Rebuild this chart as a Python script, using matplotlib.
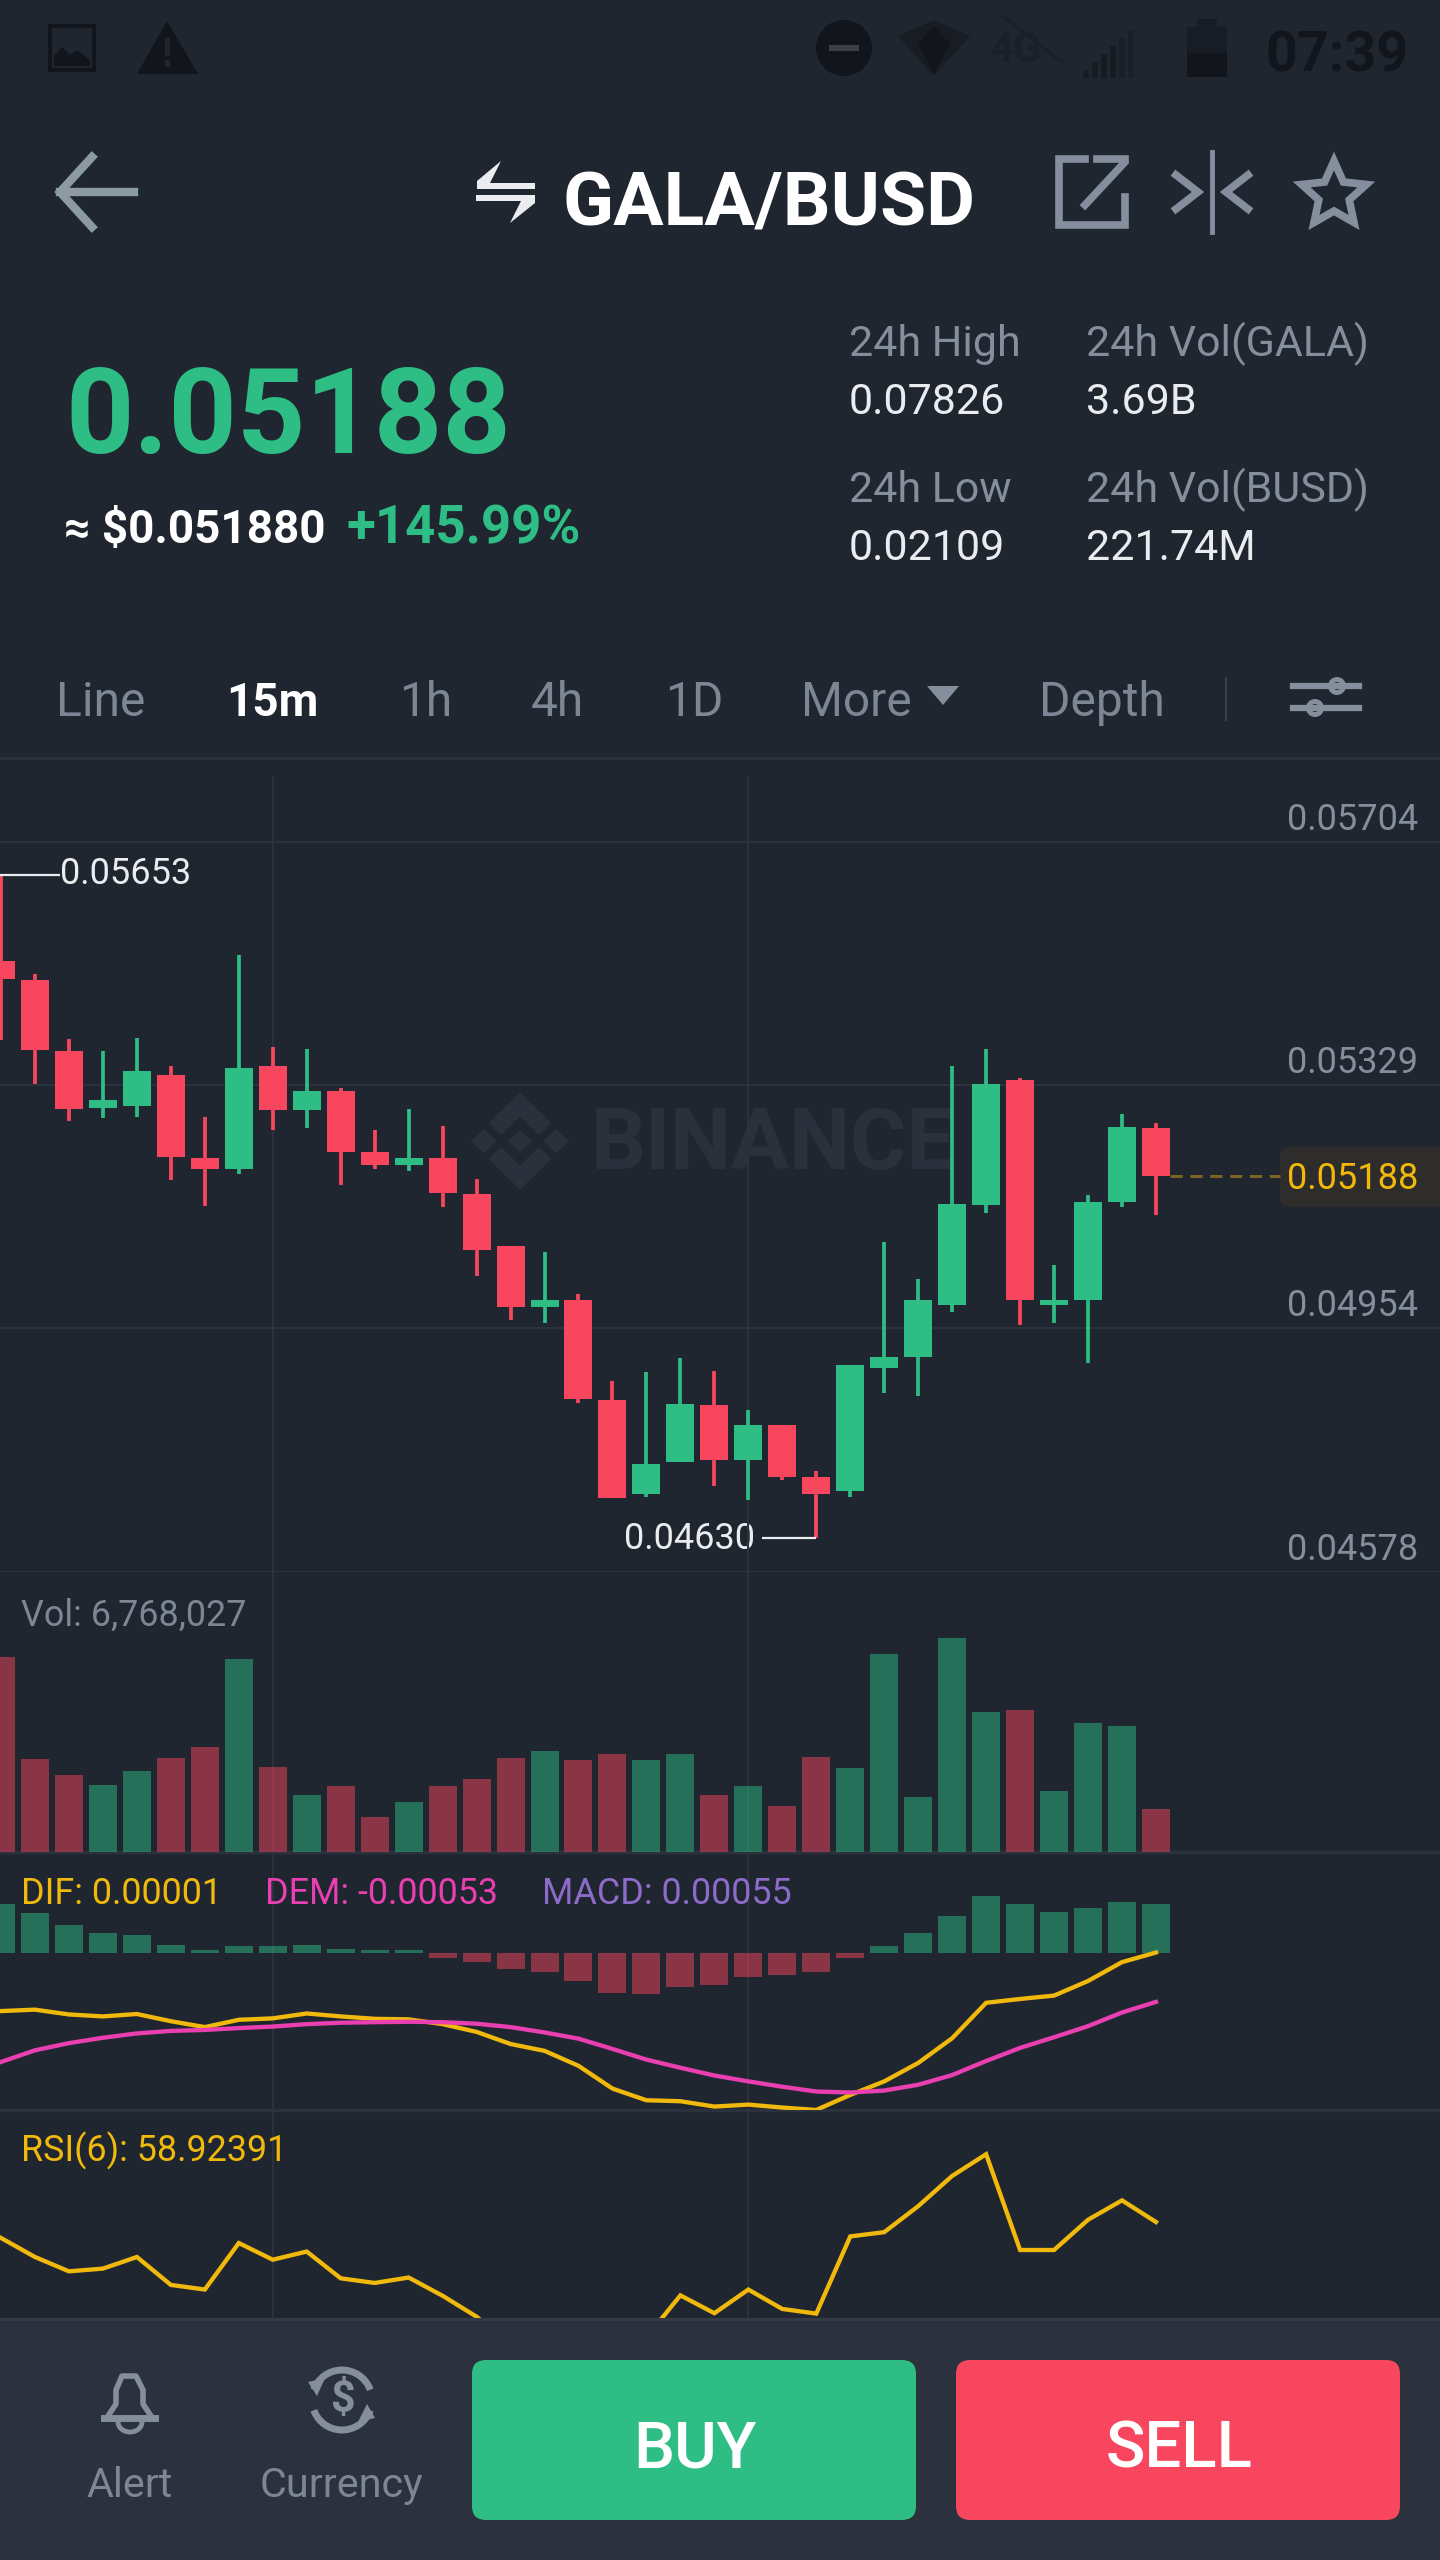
import numpy as np
import matplotlib
matplotlib.use("Agg")
import matplotlib.pyplot as plt
from matplotlib.patches import Arc, Circle, FancyBboxPatch, Polygon, Rectangle

opens = [0.05520, 0.05491, 0.05381, 0.05293, 0.05297, 0.05345, 0.05217, 0.05200, 0.05358, 0.05291, 0.05320, 0.05225,
         0.05206, 0.05216, 0.05161, 0.05080, 0.04986, 0.04998, 0.04843, 0.04698, 0.04747, 0.04835, 0.04750, 0.04804,
         0.04724, 0.04702, 0.04892, 0.04910, 0.04990, 0.05144, 0.05337, 0.04990, 0.04998, 0.05149, 0.05262]
closes = [0.05492, 0.05383, 0.05292, 0.05306, 0.05350, 0.05218, 0.05199, 0.05355, 0.05291, 0.05320, 0.05225, 0.05206,
          0.05217, 0.05162, 0.05074, 0.04986, 0.04997, 0.04845, 0.04691, 0.04744, 0.04837, 0.04750, 0.04804, 0.04724,
          0.04698, 0.04897, 0.04910, 0.04998, 0.05145, 0.05331, 0.04997, 0.04998, 0.05148, 0.05264, 0.05188]
highs = [0.05653, 0.05500, 0.05400, 0.05381, 0.05401, 0.05359, 0.05280, 0.05530, 0.05387, 0.05385, 0.05325, 0.05259,
         0.05292, 0.05266, 0.05184, 0.05081, 0.05072, 0.05007, 0.04873, 0.04886, 0.04908, 0.04888, 0.04828, 0.04804,
         0.04733, 0.04897, 0.05087, 0.05030, 0.05358, 0.05385, 0.05340, 0.05052, 0.05159, 0.05284, 0.05270]
lows = [0.05399, 0.05330, 0.05274, 0.05278, 0.05279, 0.05182, 0.05142, 0.05192, 0.05259, 0.05263, 0.05175, 0.05199,
        0.05197, 0.05141, 0.05034, 0.04967, 0.04961, 0.04839, 0.04691, 0.04694, 0.04747, 0.04710, 0.04688, 0.04720,
        0.04630, 0.04693, 0.04853, 0.04849, 0.04979, 0.05131, 0.04959, 0.04961, 0.04900, 0.05141, 0.05129]
volumes = [30.9, 14.8, 12.3, 10.7, 12.9, 14.9, 16.7, 30.7, 13.5, 9.0, 10.4, 5.5, 7.9, 10.5, 11.6, 14.9, 16.1, 14.6,
           15.6, 14.6, 15.6, 9.0, 10.4, 7.3, 15.1, 13.4, 31.5, 8.8, 34.0, 22.3, 22.5, 9.7, 20.4, 20.0, 6.77]
macd_hist = [56, 45, 32, 23, 21, 10, 4, 8, 8, 10, 5, 4, 4, -5, -10, -18, -21, -31, -45, -46, -38, -35, -27, -24,
             -21, -5, 8, 23, 42, 64, 55, 47, 51, 58, 55]
dif = [-64.8, -63.2, -68.6, -70.8, -68.1, -76.2, -82.8, -74.6, -73.0, -67.5, -70.8, -73.5, -74.1, -79.5, -88.2,
       -101.8, -109.5, -126.3, -151.9, -165.0, -166.1, -172.1, -169.9, -173.2, -175.9, -159.0, -143.8, -123.1,
       -95.3, -55.5, -51.2, -47.4, -31.0, -9.8, 1.0]
dem = [-122.0, -108.9, -100.8, -94.8, -89.9, -87.1, -86.0, -83.9, -82.2, -79.5, -77.9, -77.3, -76.8, -77.3, -79.0,
       -82.8, -88.8, -95.8, -107.3, -119.3, -128.5, -137.2, -143.8, -149.8, -155.2, -156.3, -154.1, -147.6, -136.7,
       -120.9, -106.2, -94.2, -81.7, -66.4, -54.5]
rsi = [54.8, 49.9, 46.2, 46.9, 49.9, 42.7, 41.5, 53.5, 49.2, 51.3, 44.4, 43.2, 44.6, 39.9, 34.5, 27.0, 25.8, 22.0,
       18.3, 29.2, 40.0, 35.4, 41.5, 36.5, 35.3, 55.2, 56.3, 63.0, 70.8, 76.4, 51.7, 51.7, 59.5, 64.5, 58.92]

price_ticks = [0.05704, 0.05329, 0.04954, 0.04578]
last_price = 0.05188
high_price = 0.05653
low_price = 0.04630
high_index = 0
low_index = 24
grid_candles = [8, 22]

tabs = ["Line", "15m", "1h", "4h", "1D", "More", "Depth"]
tabs_x = [56, 226, 399, 531, 665, 801, 1039]

# --- Couleurs ---
BG = "#1f2630"
FOOTER = "#2b323d"
GRID = "#2b323d"
GREEN = "#2ebd85"
RED = "#f9465f"
YELLOW = "#f0b90b"
PINK = "#e93fb0"
PURPLE = "#8d6bca"
GREY = "#848e9c"
LABEL = "#7d8694"
WHITE = "#eaecef"
DARK = "#12161c"
MARK = "#2b313c"

W, H = 1440, 2560
STEP = 33.97
PRICE_PX = 1.5431e-5

plt.rcParams["font.family"] = ["Roboto", "DejaVu Sans"]

fig = plt.figure(figsize=(W / 100, H / 100), dpi=100, facecolor=BG)
x = np.arange(len(opens))
xlim = (-1 / STEP, (W - 1) / STEP)


def panel(top, bottom, ylim):
    ax = fig.add_axes([0, 1 - bottom / H, 1, (bottom - top) / H], zorder=2)
    ax.patch.set_alpha(0)
    ax.set_xlim(xlim)
    ax.set_ylim(ylim)
    ax.axis("off")
    for c in grid_candles:
        ax.axvline(c, color=GRID, lw=1.5, zorder=0)
    return ax


# fond + textes en pixels
under = fig.add_axes([0, 0, 1, 1], zorder=1)
ui = fig.add_axes([0, 0, 1, 1], zorder=3)
for a in (under, ui):
    a.set_xlim(0, W)
    a.set_ylim(H, 0)
    a.axis("off")
    a.patch.set_alpha(0)


def label(s, px, py, size, color=WHITE, ha="left", weight="normal", ax=ui):
    ax.text(px, py, s, fontsize=size, color=color, ha=ha, va="baseline", fontweight=weight)


# --- Filigrane ---
logo_x, logo_y, logo_r = 520, 1141, 50


def logo_poly(pts):
    under.add_patch(Polygon([(logo_x + a * logo_r, logo_y + b * logo_r * 0.97) for a, b in pts], color=MARK, lw=0))


logo_poly([(0, -0.23), (0.23, 0), (0, 0.23), (-0.23, 0)])
logo_poly([(-0.98, 0), (-0.72, -0.25), (-0.47, 0), (-0.72, 0.25)])
logo_poly([(0.98, 0), (0.72, -0.25), (0.47, 0), (0.72, 0.25)])
logo_poly([(0, -1), (0.63, -0.37), (0.38, -0.12), (0, -0.5), (-0.38, -0.12), (-0.63, -0.37)])
logo_poly([(0, 1), (0.63, 0.37), (0.38, 0.12), (0, 0.5), (-0.38, 0.12), (-0.63, 0.37)])
label("BINANCE", 590, 1169, 62, MARK, weight="bold", ax=under)

# --- Chandeliers ---
price_top = 776
price_bottom = 1572
tick_y = 842
ax_price = panel(price_top, price_bottom, (price_ticks[0] - (price_bottom - tick_y) * PRICE_PX,
                                           price_ticks[0] + (tick_y - price_top) * PRICE_PX))
for level in price_ticks:
    ax_price.axhline(level, color=GRID, lw=1.5, zorder=0)
colors = [GREEN if c >= o else RED for o, c in zip(opens, closes)]
ax_price.vlines(x, lows, highs, colors=colors, lw=2.7, zorder=2)
ax_price.bar(x, np.abs(np.array(closes) - np.array(opens)), bottom=np.minimum(opens, closes), width=0.824,
             color=colors, zorder=3)

# prix courant + extremes
ax_price.hlines(last_price, x[-1] + 14 / STEP, (1280 - 1) / STEP, color="#7a6420", lw=2.2, linestyles=(0, (4, 2.5)))
ax_price.hlines(high_price, xlim[0], (60 - 1) / STEP, color=WHITE, lw=1.6)
ax_price.hlines(low_price, (762 - 1) / STEP, low_index, color=WHITE, lw=1.6)
for level in price_ticks:
    ax_price.annotate(f"{level:.5f}", (1, level), xycoords=("axes fraction", "data"), xytext=(-22, 12),
                      textcoords="offset pixels", ha="right", va="baseline", fontsize=26, color=GREY)
ui.add_patch(FancyBboxPatch((1280, 1147), 180, 60, boxstyle="round,pad=0,rounding_size=10", color="#2e2d2b", lw=0,
                            zorder=0))
ax_price.annotate(f"{last_price:.5f}", (1, last_price), xycoords=("axes fraction", "data"), xytext=(-22, -13),
                  textcoords="offset pixels", ha="right", va="baseline", fontsize=26, color=YELLOW, zorder=10)
ax_price.set_zorder(4)
label("0.05653", 60, 884, 26)
label("0.04630", 624, 1549, 26)

# --- Volume ---
vol_top, vol_bottom = 1572, 1852
ax_vol = panel(vol_top, vol_bottom, (0, (vol_bottom - vol_top) / 6.30))
ax_vol.bar(x, volumes, width=0.824, color=colors, alpha=0.49, lw=0)
ax_vol.axhline(0, color=GRID, lw=2.5, zorder=0, clip_on=False)
label("Vol: 6,768,027", 21, 1626, 25.8, LABEL)

# --- MACD (unite 1e-5) ---
macd_top, macd_bottom = 1852, 2110
macd_zero = 1953.4
macd_px = 1.1236
ax_macd = panel(macd_top, macd_bottom, (-(macd_bottom - macd_zero) * macd_px, (macd_zero - macd_top) * macd_px))
ax_macd.bar(x, macd_hist, width=0.824, color=[GREEN if v >= 0 else RED for v in macd_hist], alpha=0.49, lw=0)
ax_macd.plot(x, dif, color=YELLOW, lw=3.1, solid_joinstyle="miter")
ax_macd.plot(x, dem, color=PINK, lw=3.1)
ax_macd.axhline(ax_macd.get_ylim()[0], color=GRID, lw=2.5, zorder=0, clip_on=False)
label("DIF: 0.00001", 21, 1904, 25.8, YELLOW)
label("DEM: -0.00053", 265, 1904, 25.8, PINK)
label("MACD: 0.00055", 542, 1904, 25.8, PURPLE)

# --- RSI ---
rsi_top, rsi_bottom = 2110, 2318
rsi_anchor = 2222
rsi_px = 3.878
ax_rsi = panel(rsi_top, rsi_bottom, (rsi[-1] - (rsi_bottom - rsi_anchor) / rsi_px,
                                     rsi[-1] + (rsi_anchor - rsi_top) / rsi_px))
ax_rsi.plot(x, rsi, color=YELLOW, lw=3.1, solid_joinstyle="miter")
label("RSI(6): 58.92391", 21, 2161, 25.8, YELLOW)

# --- Pied de page ---
ui.add_patch(Rectangle((0, 2318), W, H - 2318, color=FOOTER, lw=0))
ui.add_patch(Rectangle((0, 2318), W, 3, color="#343b47", lw=0))
ui.add_patch(FancyBboxPatch((472, 2360), 444, 160, boxstyle="round,pad=0,rounding_size=14", color=GREEN, lw=0))
ui.add_patch(FancyBboxPatch((956, 2360), 444, 160, boxstyle="round,pad=0,rounding_size=14", color=RED, lw=0))
label("BUY", 695, 2468, 47, "white", ha="center", weight="medium")
label("SELL", 1179, 2468, 47, "white", ha="center", weight="medium")
label("Alert", 130, 2497, 29.8, LABEL, ha="center")
label("Currency", 342, 2497, 29.8, LABEL, ha="center")

# cloche
ui.plot([108, 116, 116, 122, 136, 143, 143, 151], [2416, 2404, 2390, 2376, 2376, 2390, 2404, 2416], color=GREY, lw=4)
ui.plot([104, 155], [2418, 2418], color=GREY, lw=5)
ui.add_patch(Arc((130, 2422), 24, 20, theta1=0, theta2=180, color=GREY, lw=3.5))
# devise
ui.add_patch(Arc((342, 2400), 60, 60, theta1=20, theta2=160, color=GREY, lw=5))
ui.add_patch(Arc((342, 2400), 60, 60, theta1=200, theta2=340, color=GREY, lw=5))
ui.add_patch(Polygon([(308, 2382), (325, 2378), (317, 2396)], color=GREY, lw=0))
ui.add_patch(Polygon([(375, 2418), (358, 2422), (367, 2404)], color=GREY, lw=0))
ui.text(342, 2400, "$", fontsize=31, color=GREY, ha="center", va="center", fontweight="bold")

# --- Barre d'etat ---
ui.add_patch(Rectangle((50, 26), 44, 44, fill=False, ec=DARK, lw=3))
ui.add_patch(Polygon([(54, 66), (54, 56), (62, 47), (70, 55), (77, 50), (90, 60), (90, 66)], color=DARK, lw=0))
ui.add_patch(Polygon([(167, 21), (198, 74), (137, 74)], color=DARK, lw=0, joinstyle="round"))
ui.add_patch(Rectangle((165, 38), 5, 18, color=BG, lw=0))
ui.add_patch(Rectangle((165, 60), 5, 7, color=BG, lw=0))
ui.add_patch(Circle((844, 48), 28, color=DARK, lw=0))
ui.add_patch(Rectangle((829, 45), 30, 6, color="#3a4048", lw=0))
ui.add_patch(Polygon([(934, 20), (970, 36), (934, 76), (898, 36)], color="#181d24", lw=0))
ui.add_patch(Polygon([(934, 26), (950, 44), (934, 74), (918, 44)], color=DARK, lw=0))
label("4G", 990, 62, 30, "#1a2029", weight="bold")
ui.plot([1005, 1062], [18, 62], color="#1a2029", lw=2.5)
for k, bx in enumerate(range(1083, 1130, 9)):
    ui.add_patch(Rectangle((bx, 78 - 8 * (k + 1)), 6, 8 * (k + 1), color="#171c23" if k < 4 else "#1a2029", lw=0))
ui.add_patch(Rectangle((1187, 27), 40, 50, color="#181d25", lw=0))
ui.add_patch(Rectangle((1197, 19), 20, 8, color="#181d25", lw=0))
ui.add_patch(Rectangle((1187, 53), 40, 24, color=DARK, lw=0))
label("07:39", 1265, 71, 40, DARK, weight="bold")

# --- En-tete ---
ui.plot([60, 134], [192, 192], color="#8c9aa3", lw=6)
ui.plot([92, 60, 92], [157, 192, 227], color="#8c9aa3", lw=6, solid_joinstyle="miter")
ui.add_patch(Polygon([(501, 161), (490, 183), (535, 183), (535, 189), (477, 189), (477, 181)], color=WHITE, lw=0))
ui.add_patch(Polygon([(510, 223), (521, 201), (476, 201), (476, 195), (535, 195), (535, 203)], color=WHITE, lw=0))
label("GALA/BUSD", 562, 225, 54, "white", weight="bold")
ui.plot([1085, 1059, 1059, 1125, 1125], [159, 159, 225, 225, 197], color=GREY, lw=5.5, solid_joinstyle="miter")
ui.plot([1097, 1125, 1125], [159, 159, 159], color=GREY, lw=5.5)
ui.plot([1085, 1124], [205, 163], color=GREY, lw=5.5)
ui.plot([1212, 1212], [152, 232], color=GREY, lw=3.5)
ui.plot([1176, 1198, 1176], [175, 192, 209], color=GREY, lw=5.5, solid_joinstyle="miter")
ui.plot([1248, 1226, 1248], [175, 192, 209], color=GREY, lw=5.5, solid_joinstyle="miter")
star_a = np.deg2rad(np.arange(10) * 36 - 90)
star_r = np.where(np.arange(10) % 2 == 0, 34, 16)
ui.add_patch(Polygon(np.c_[1334 + star_r * np.cos(star_a), 195 + star_r * np.sin(star_a)], fill=False, ec=GREY, lw=5.5))

# --- Prix ---
label("0.05188", 65, 453, 86, GREEN, weight="bold")
label("≈ $0.051880", 64, 543, 33, "white", weight="bold")
label("+145.99%", 347, 543, 38, GREEN, weight="bold")
label("24h High", 849, 356, 31, GREY)
label("0.07826", 849, 414, 31)
label("24h Vol(GALA)", 1086, 356, 31, GREY)
label("3.69B", 1086, 414, 31)
label("24h Low", 849, 502, 31, GREY)
label("0.02109", 849, 560, 31)
label("24h Vol(BUSD)", 1086, 502, 31, GREY)
label("221.74M", 1086, 560, 31)

# --- Onglets ---
for name, tx in zip(tabs, tabs_x):
    active = name == "15m"
    size = 33 if active else 34.5
    label(name, tx, 716, size, "white" if active else LABEL, weight="bold" if active else "normal")
ui.add_patch(Polygon([(927, 686), (959, 686), (943, 705)], color=GREY, lw=0))
ui.plot([1226, 1226], [678, 720], color="#3a414d", lw=1.5)
ui.plot([1293, 1359], [686, 686], color=GREY, lw=4.5)
ui.plot([1293, 1359], [708, 708], color=GREY, lw=4.5)
ui.add_patch(Circle((1337, 686), 9, fc=GREY, ec=GREY, lw=0))
ui.add_patch(Circle((1337, 686), 4, fc=BG, lw=0))
ui.add_patch(Circle((1315, 708), 9, fc=GREY, ec=GREY, lw=0))
ui.add_patch(Circle((1315, 708), 4, fc=BG, lw=0))
ui.plot([0, W], [758, 758], color=GRID, lw=2)

fig.savefig("out.png", dpi=100, facecolor=BG)
